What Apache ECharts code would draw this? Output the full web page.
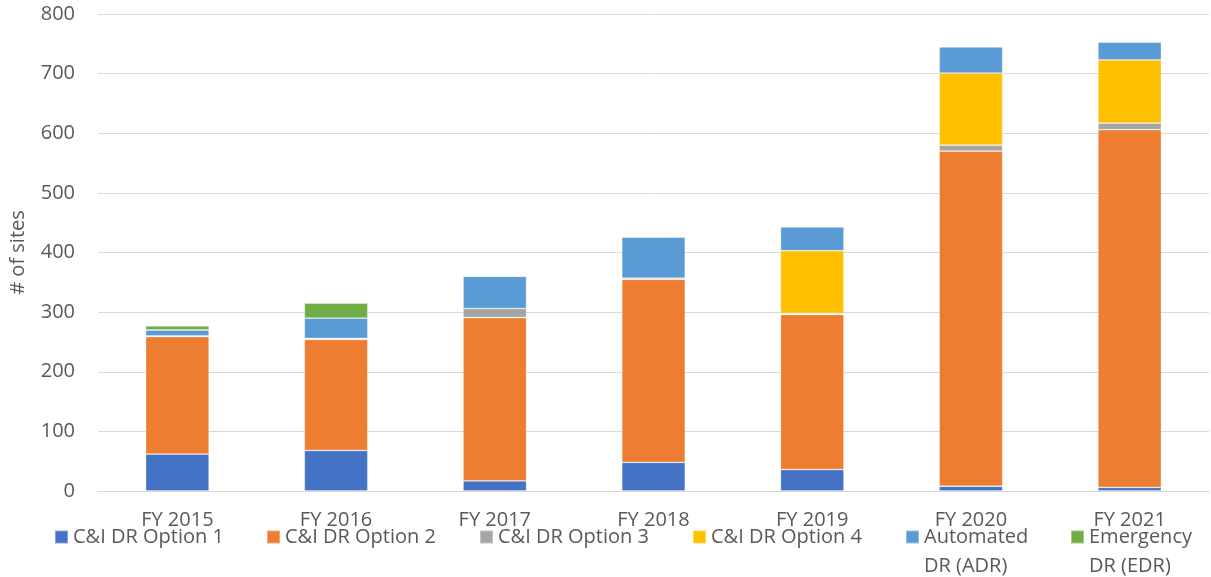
<!DOCTYPE html>
<html>
<head>
<meta charset="utf-8">
<script src="https://cdn.jsdelivr.net/npm/echarts@6/dist/echarts.min.js"></script>
<style>
html,body{margin:0;padding:0;background:#fff;}
#chart{width:1211px;height:577px;}
</style>
</head>
<body>
<div id="chart"></div>
<script>
const categories = ['FY 2015', 'FY 2016', 'FY 2017', 'FY 2018', 'FY 2019', 'FY 2020', 'FY 2021'];
const seriesNames = ['C&I DR Option 1', 'C&I DR Option 2', 'C&I DR Option 3', 'C&I DR Option 4', 'Automated DR (ADR)', 'Emergency DR (EDR)'];
const option1 = [62, 68, 17, 48, 36, 8, 6];
const option2 = [197, 186, 274, 307, 260, 562, 600];
const option3 = [1, 2, 15, 2, 2, 10, 11];
const option4 = [0, 0, 0, 0, 105, 121, 106];
const adr = [10, 34, 54, 69, 40, 44, 30];
const edr = [7, 25, 0, 0, 0, 0, 0];
const yTicks = [0, 100, 200, 300, 400, 500, 600, 700, 800];

const colors = ['#4472C4', '#ED7D31', '#A5A5A5', '#FFC000', '#5B9BD5', '#70AD47'];
const values = [option1, option2, option3, option4, adr, edr];
const FONT = 'Open Sans';
const FS = 20;
const TXT = '#595959';

const legendLeft = [54, 266, 479, 692, 905, 1070];
const legendLabels = {
  'Automated DR (ADR)': '\nAutomated\nDR (ADR)',
  'Emergency DR (EDR)': '\nEmergency\nDR (EDR)'
};

const legends = seriesNames.map((n, i) => {
  const twoLine = !!legendLabels[n];
  return {
    data: [n],
    left: legendLeft[i],
    top: twoLine ? 493.5 : 522.5,
    padding: 0,
    icon: 'rect',
    itemWidth: 13,
    itemHeight: 13,
    formatter: name => legendLabels[name] || name,
    textStyle: {fontFamily: FONT, fontSize: FS, color: TXT, lineHeight: 29}
  };
});

const chart = echarts.init(document.getElementById('chart'), null, {renderer: 'canvas'});
chart.setOption({
  animation: false,
  color: colors,
  legend: legends,
  grid: {left: 96, right: 2, top: 14, bottom: 86, containLabel: false},
  xAxis: {
    type: 'category',
    data: categories,
    axisLine: {lineStyle: {color: '#d9d9d9', width: 1}},
    axisTick: {show: false},
    axisLabel: {fontFamily: FONT, fontSize: FS, color: TXT, margin: 19}
  },
  yAxis: {
    type: 'value',
    min: yTicks[0],
    max: yTicks[yTicks.length - 1],
    interval: yTicks[1] - yTicks[0],
    name: '# of sites',
    nameLocation: 'middle',
    nameRotate: 90,
    nameGap: 70,
    nameTextStyle: {fontFamily: FONT, fontSize: FS, color: TXT},
    axisLine: {show: false},
    axisTick: {show: false},
    splitLine: {lineStyle: {color: '#d9d9d9', width: 1}},
    axisLabel: {fontFamily: FONT, fontSize: FS, color: TXT, margin: 23}
  },
  series: seriesNames.map((n, i) => ({
    name: n,
    type: 'bar',
    stack: 'total',
    barWidth: '40%',
    data: values[i],
    itemStyle: {color: colors[i], borderColor: 'rgba(255,255,255,0.35)', borderWidth: 0.8}
  }))
});
</script>
</body>
</html>
